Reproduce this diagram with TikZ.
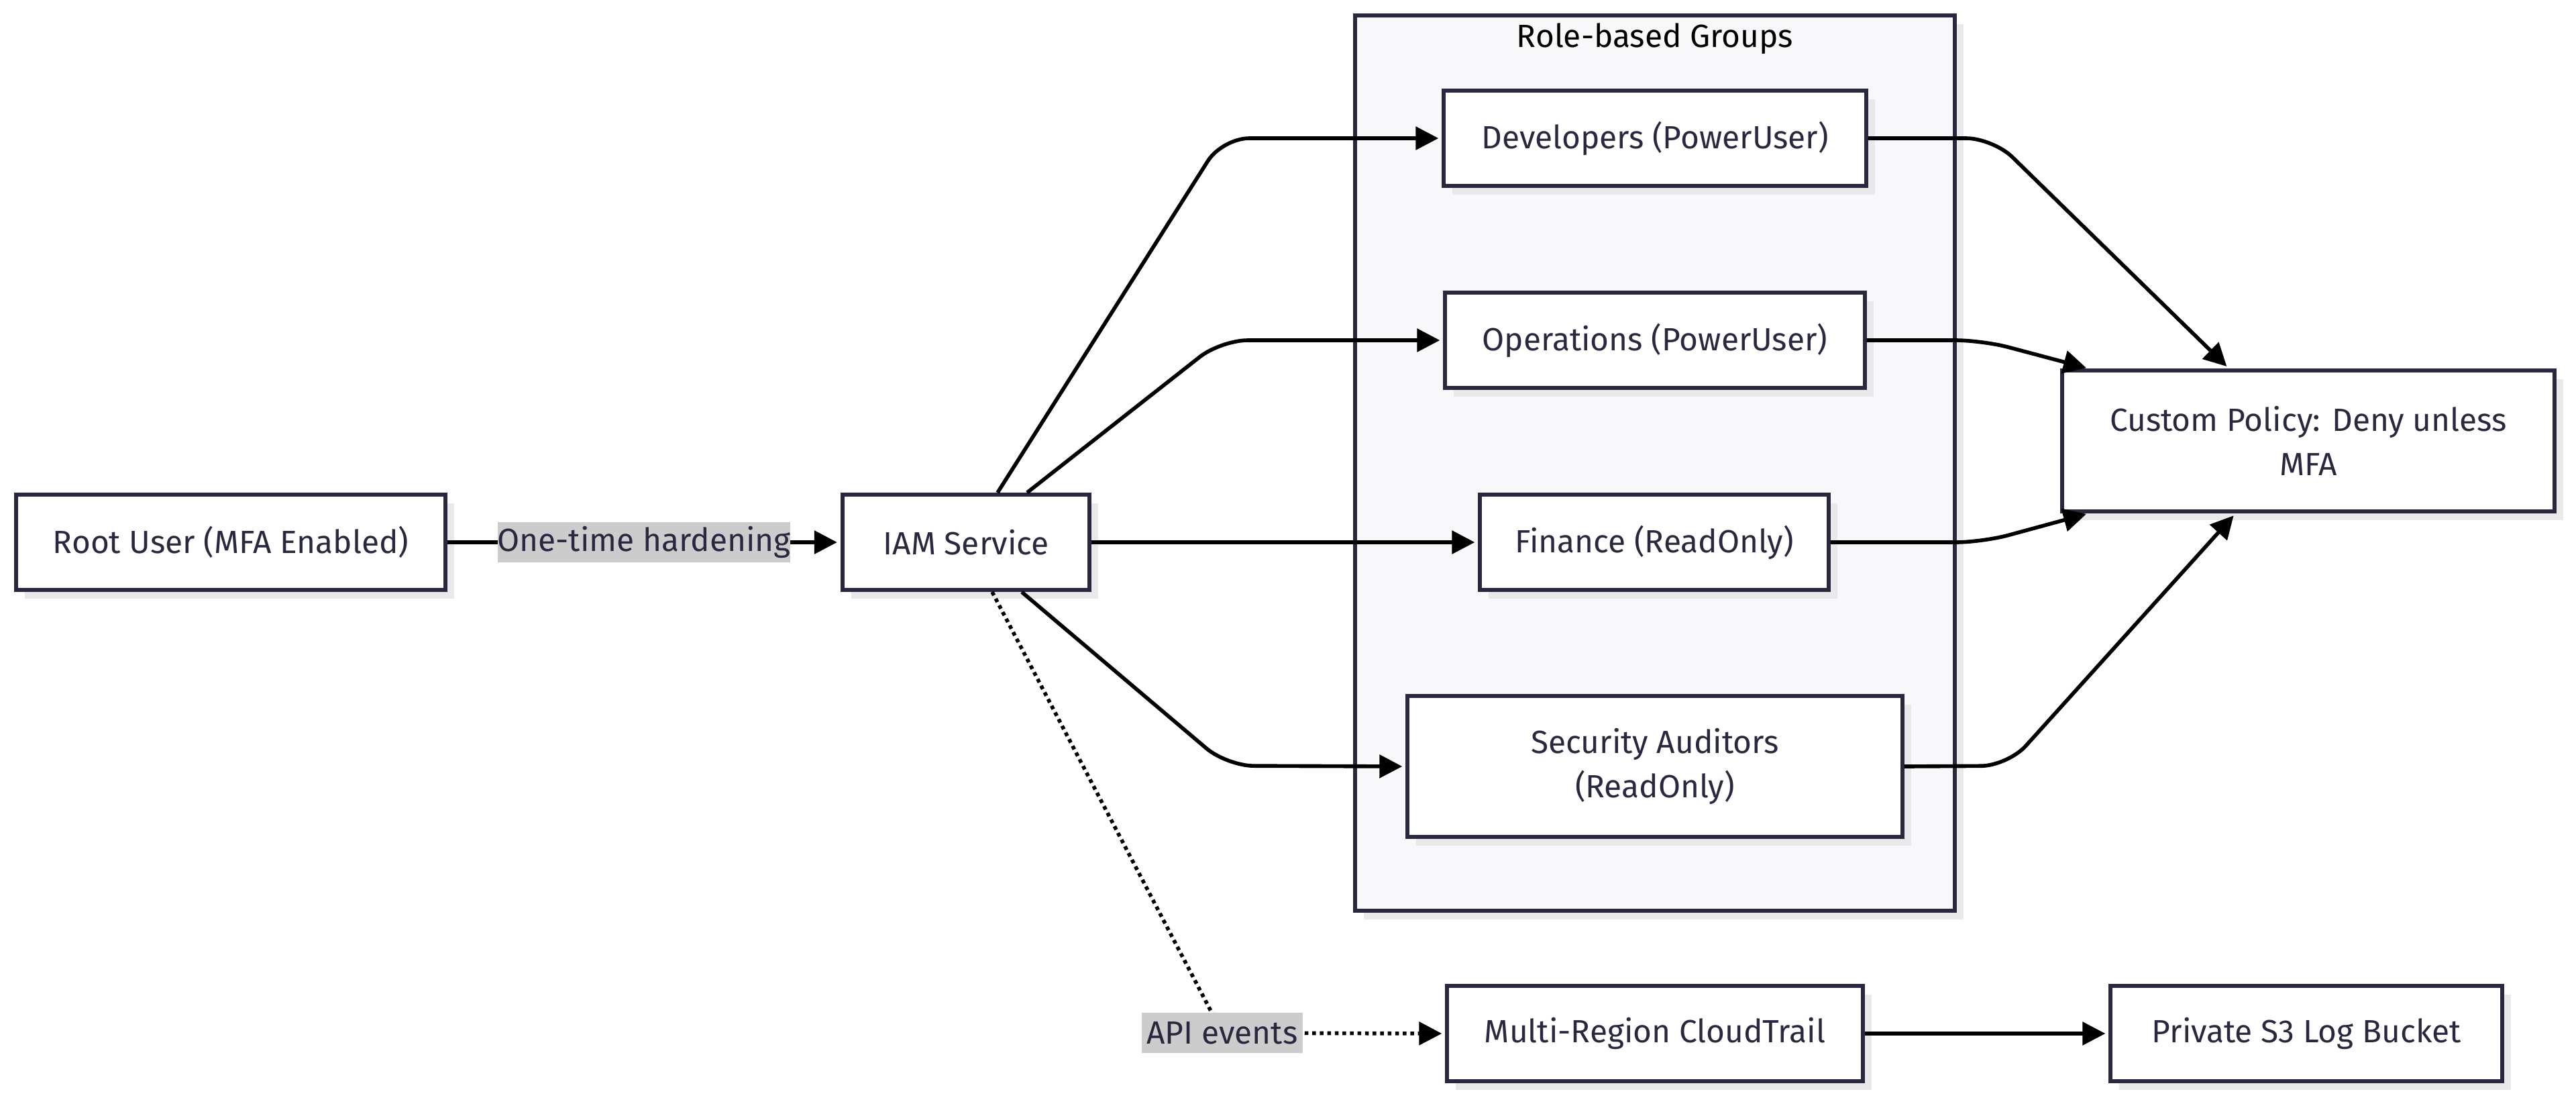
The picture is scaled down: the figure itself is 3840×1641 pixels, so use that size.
\documentclass[tikz,border=0pt]{standalone}
\usepackage{fontspec}
\setmainfont{Fira Sans}
\usetikzlibrary{arrows.meta,shadows}
\definecolor{inkline}{HTML}{28283F}
\definecolor{groupfill}{HTML}{F8F8FA}
\definecolor{shade}{HTML}{E9E9EC}
\definecolor{lblfill}{HTML}{CCCCCC}
\tikzset{
	box/.style={draw=inkline, line width=1.7pt, fill=white, text=inkline,
		minimum height=1.42cm, inner sep=0pt, align=center,
		drop shadow={shadow xshift=0.13cm, shadow yshift=-0.13cm, fill=shade, opacity=1}},
	lbl/.style={fill=lblfill, text=inkline, inner sep=0pt, minimum height=0.6cm, sharp corners, solid},
	edge/.style={line width=1.6pt, -{Triangle[length=0.34cm, width=0.34cm]}, rounded corners=0.4cm, shorten >=0.05cm},
	dotedge/.style={edge, dash pattern=on 1.6pt off 1.6pt, line width=1.6pt}
}
\begin{document}
\begin{tikzpicture}[x=0.01cm, y=-0.01cm, font=\fontsize{13.6}{18.8}\selectfont]
		\useasboundingbox (0,0) rectangle (3840,1641);
		% Group frame.
		\node[draw=inkline, line width=1.7pt, fill=groupfill, minimum width=8.94cm, minimum height=13.33cm,
			drop shadow={shadow xshift=0.13cm, shadow yshift=-0.13cm, fill=shade, opacity=1}] (groups) at (2467,690) {};
		\node[text=black] (gtitle) at (2467,58) {Role-based Groups};
		% Nodes.
		\node[box, minimum width=6.40cm] (root) at (344,808) {Root User (MFA Enabled)};
		\node[box, minimum width=3.68cm] (iam) at (1440,808) {IAM Service};
		\node[box, minimum width=6.29cm] (dev) at (2467,206) {Developers (PowerUser)};
		\node[box, minimum width=6.25cm] (ops) at (2467,507) {Operations (PowerUser)};
		\node[box, minimum width=5.19cm] (fin) at (2466,808) {Finance (ReadOnly)};
		\node[box, minimum width=7.37cm, minimum height=2.09cm] (sec) at (2467,1142) {Security Auditors\\(ReadOnly)};
		\node[box, minimum width=7.34cm, minimum height=2.09cm] (pol) at (3441,657) {Custom Policy: Deny unless\\MFA};
		\node[box, minimum width=6.19cm] (trail) at (2467,1540) {Multi-Region CloudTrail};
		\node[box, minimum width=5.83cm] (bucket) at (3438,1540) {Private S3 Log Bucket};
		% Edges.
		\draw[edge] (root) -- (iam) node[lbl, midway, minimum width=4.36cm] (hard) {One-time hardening};
		\draw[edge] ([xshift=0.47cm]iam.north) -- (1822,206) -- (dev.west);
		\draw[edge] ([xshift=0.91cm]iam.north) -- (1820,507) -- (ops.west);
		\draw[edge] (iam) -- (fin);
		\draw[edge] ([xshift=0.83cm]iam.south) -- (1829,1141) -- (sec.west);
		\draw[dotedge] ([xshift=0.39cm]iam.south) -- (1822,1539) -- (trail.west);
		\node[lbl, minimum width=2.40cm] (api) at (1822,1539) {API events};
		\draw[edge] (dev.east) -- (2971,206) -- ([xshift=-1.18cm]pol.north);
		\draw[edge] (ops.east) -- (2955,507) -- ([xshift=-3.26cm]pol.north);
		\draw[edge] (fin.east) -- (2955,808) -- ([xshift=-3.26cm]pol.south);
		\draw[edge] (sec.east) -- (2993,1141) -- ([xshift=-1.08cm]pol.south);
		\draw[edge] (trail) -- (bucket);
	\end{tikzpicture}
\end{document}
